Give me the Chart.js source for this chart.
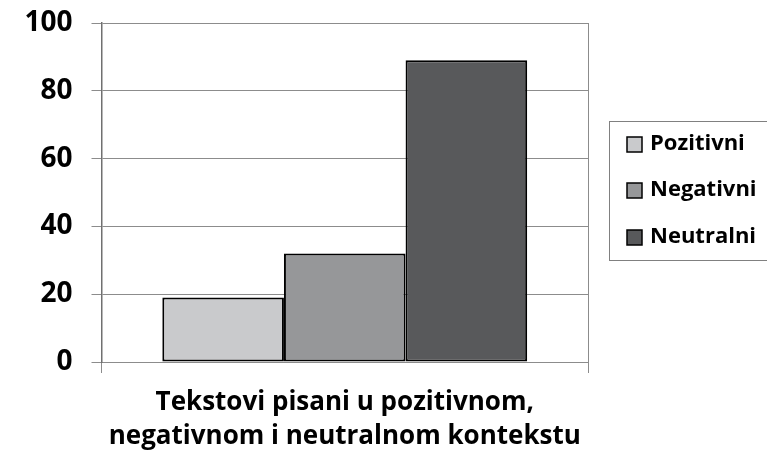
<!DOCTYPE html>
<html>
<head>
<meta charset="utf-8">
<script src="https://cdn.jsdelivr.net/npm/chart.js@4"></script>
<style>
  html, body { margin: 0; padding: 0; background: #fff; }
  #wrap { width: 767px; height: 454px; }
</style>
</head>
<body>
<div id="wrap"><canvas id="bars" width="767" height="454"></canvas></div>
<script>
const categories = [''];
const seriesNames = ['Pozitivni', 'Negativni', 'Neutralni'];
const seriesValues = [[19], [32], [89]];
const seriesColors = ['#c9cacc', '#969799', '#58595b'];
const axisTitle = ['Tekstovi pisani u pozitivnom,', 'negativnom i neutralnom kontekstu'];
const yTicks = [0, 20, 40, 60, 80, 100];

const FONT = '"Open Sans", sans-serif';

// legend box drawn by hand, items come from chart datasets
const boxLegend = {
  id: 'boxLegend',
  afterDraw(chart) {
    const ctx = chart.ctx;
    ctx.save();
    ctx.strokeStyle = '#808080';
    ctx.lineWidth = 1;
    ctx.strokeRect(609.5, 121.5, 200, 139);
    const rows = [144, 190, 237];
    ctx.font = 'bold 22px ' + FONT;
    ctx.textBaseline = 'middle';
    chart.data.datasets.forEach((ds, i) => {
      const y = rows[i];
      ctx.fillStyle = ds.backgroundColor;
      ctx.fillRect(627, y - 7, 15, 15);
      ctx.strokeStyle = '#000';
      ctx.lineWidth = 1.5;
      ctx.strokeRect(627, y - 7, 15, 15);
      ctx.fillStyle = '#000';
      ctx.fillText(ds.label, 650, y);
    });
    ctx.restore();
  }
};

new Chart(document.getElementById('bars'), {
  type: 'bar',
  data: {
    labels: categories,
    datasets: seriesNames.map((name, i) => ({
      label: name,
      data: seriesValues[i],
      backgroundColor: seriesColors[i],
      borderColor: '#000',
      borderWidth: 2,
      borderSkipped: false,
      barPercentage: 1,
      categoryPercentage: 0.75
    }))
  },
  options: {
    responsive: false,
    animation: false,
    layout: { padding: { top: 23, right: 179, left: 0, bottom: 0 } },
    plugins: {
      legend: { display: false },
      tooltip: { enabled: false }
    },
    scales: {
      x: {
        grid: { color: '#8c8c8c', tickLength: 11, offset: true },
        border: { color: '#8c8c8c' },
        ticks: { display: false },
        title: {
          display: true,
          text: axisTitle,
          color: '#000',
          font: { family: FONT, size: 26, weight: 'bold', lineHeight: '34px' },
          padding: { top: 0, bottom: 0 }
        },
        afterFit(s) { s.height = 92; s.paddingLeft = 0; s.paddingRight = 0; }
      },
      y: {
        min: 0,
        max: 100,
        afterBuildTicks(s) { s.ticks = yTicks.map(v => ({ value: v })); },
        grid: { color: '#8c8c8c', tickLength: 10 },
        border: { color: '#707070', width: 1.5 },
        ticks: {
          color: '#000',
          padding: 19,
          font: { family: FONT, size: 28, weight: 'bold' }
        },
        afterFit(s) { s.width = 101.5; s.paddingTop = 0; s.paddingBottom = 0; }
      }
    }
  },
  plugins: [boxLegend]
});
</script>
</body>
</html>
